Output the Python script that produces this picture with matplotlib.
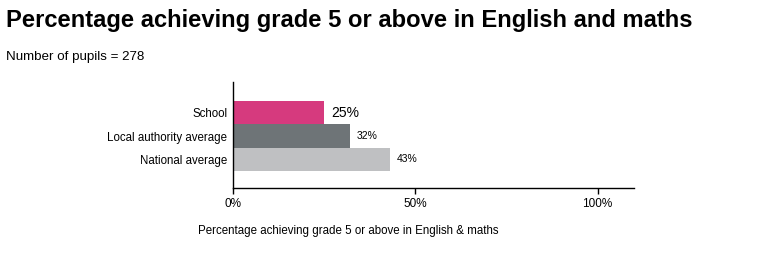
import matplotlib
matplotlib.use("Agg")
import matplotlib.pyplot as plt

categories = ["School", "Local authority average", "National average"]
values = [25, 32, 43]
colors = ["#d63a7e", "#6e7477", "#bfc0c2"]
label_sizes = [10, 7.5, 7.5]
ticks = [0, 50, 100]
tick_labels = ["0%", "50%", "100%"]

plt.rcParams["font.family"] = ["Liberation Sans", "DejaVu Sans"]

fig = plt.figure(figsize=(7.79, 2.56), dpi=100)
ax = fig.add_axes([233 / 779, 1 - 188 / 256, (634 - 233) / 779, (188 - 82) / 256])

y = list(range(len(categories)))
ax.barh(y, values, height=1.0, color=colors)
for yi, v, fs in zip(y, values, label_sizes):
    ax.text(v + 2, yi, f"{v}%", va="center", ha="left", fontsize=fs)

ax.set_xlim(0, 110)
ax.set_ylim(3.23, -1.32)
ax.set_yticks(y)
ax.set_yticklabels(categories, fontsize=8.3)
ax.tick_params(axis="y", length=0, pad=4)
ax.set_xticks(ticks)
ax.set_xticklabels(tick_labels, fontsize=8.5)
ax.tick_params(axis="x", length=4, width=1, pad=3)
for s in ["top", "right"]:
    ax.spines[s].set_visible(False)
ax.spines["left"].set_linewidth(1)
ax.spines["bottom"].set_linewidth(1)

fig.text(6 / 779, 1 - 20 / 256, "Percentage achieving grade 5 or above in English and maths",
         fontsize=17.1, fontweight="bold", va="center", ha="left")
fig.text(6 / 779, 1 - 57 / 256, "Number of pupils = 278",
         fontsize=9.6, va="center", ha="left")
fig.text(198 / 779, 1 - 231 / 256, "Percentage achieving grade 5 or above in English & maths",
         fontsize=8.3, va="center", ha="left")

fig.savefig("out.png", dpi=100)
